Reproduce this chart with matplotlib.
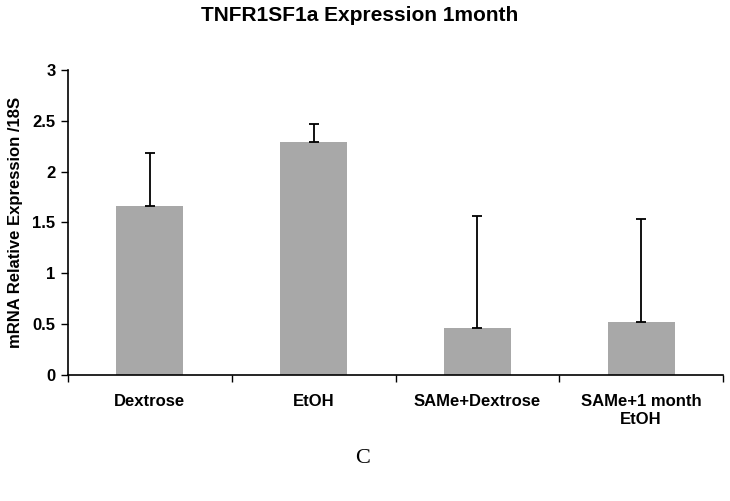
import matplotlib
matplotlib.use('Agg')
import matplotlib.pyplot as plt
import numpy as np

# values
groups = ['Dextrose', 'EtOH', 'SAMe+Dextrose', 'SAMe+1 month\nEtOH']
means = [1.66, 2.29, 0.465, 0.52]
err_up = [0.52, 0.18, 1.095, 1.01]
yticks = [0, 0.5, 1, 1.5, 2, 2.5, 3]

plt.rcParams['font.family'] = ['Liberation Sans', 'DejaVu Sans']

fig = plt.figure(figsize=(7.30, 5.01), dpi=100)
ax = fig.add_axes([0.0932, 0.2515, 0.8972, 0.6088])

x = np.arange(len(groups))
ax.bar(x, means, width=0.41, color='#a8a8a8', zorder=2)
ax.errorbar(x, means, yerr=[np.zeros(len(means)), err_up], fmt='none',
            ecolor='black', elinewidth=1.3, capsize=3.3, capthick=1.3, zorder=3)

ax.set_xlim(-0.5, len(groups) - 0.5)
ax.set_ylim(0, 3)
ax.set_yticks(yticks)
ax.set_yticklabels(['0', '0.5', '1', '1.5', '2', '2.5', '3'],
                   fontsize=12, fontweight='bold')

# boundary ticks, labels at centres
ax.set_xticks(np.arange(len(groups) + 1) - 0.5)
ax.set_xticklabels([])
ax.set_xticks(x, minor=True)
ax.set_xticklabels(groups, minor=True, fontsize=12, fontweight='bold')
ax.tick_params(axis='x', which='major', direction='out', length=5, width=1)
ax.tick_params(axis='x', which='minor', length=0, pad=14)
ax.tick_params(axis='y', direction='out', length=5, width=1, pad=4)

for s in ['top', 'right']:
    ax.spines[s].set_visible(False)
for s in ['left', 'bottom']:
    ax.spines[s].set_linewidth(1.2)

ax.set_ylabel('mRNA Relative Expression /18S', fontsize=12, fontweight='bold',
              labelpad=7)
fig.text(0.492, 0.97, 'TNFR1SF1a Expression 1month', ha='center', va='center',
         fontsize=15, fontweight='bold')
fig.text(0.497, 0.085, 'C', ha='center', va='center', fontsize=16,
         family='Liberation Serif')

fig.savefig('out.png', dpi=100)
